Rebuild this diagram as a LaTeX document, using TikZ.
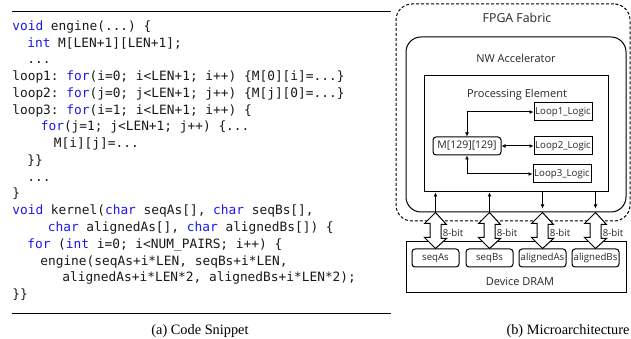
\documentclass[tikz,border=0pt]{standalone}
\usepackage{fontspec}
\setmainfont{Liberation Serif}
\setmonofont{DejaVu Sans Mono}
\newfontfamily\diagfont{Open Sans}
\usetikzlibrary{arrows.meta}
\definecolor{kwblue}{RGB}{25,25,235}
\newcommand{\kw}[1]{\textcolor{kwblue}{#1}}
\tikzstyle{codeline}=[anchor=base west,inner sep=0,text=black!90,font=\ttfamily\fontsize{7.7}{9}\selectfont\frenchspacing]
\tikzstyle{title}=[inner sep=0,text=black!85,font=\diagfont\fontsize{6.6}{8}\selectfont]
\tikzstyle{tag}=[inner sep=0,text=black!85,font=\diagfont\fontsize{5.8}{7}\selectfont]
\tikzstyle{logic}=[tag,draw,line width=0.6pt,minimum width=34.8pt,minimum height=10.8pt]
\tikzstyle{bank}=[logic,rounded corners=1.8pt,minimum width=28.2pt]
\tikzstyle{link}=[line width=0.6pt,{Latex[length=2.4pt,width=2.4pt]}-{Latex[length=2.4pt,width=2.4pt]}]
\tikzstyle{wire}=[line width=0.6pt,-{Latex[length=2.4pt,width=2.4pt]}]
\tikzstyle{bus}=[line width=0.6pt,fill=white,line join=miter]
\tikzstyle{caption}=[inner sep=0,font=\fontsize{8.6}{10}\selectfont]

\begin{document}
\begin{tikzpicture}[x=0.6pt,y=-0.6pt]
\useasboundingbox (0,0) rectangle (631,339);

% code snippet
\draw[line width=0.6pt] (12,12)--(391,12);
\node[codeline] (l1) at (12,30.5) {\kw{void} engine(...) \{};
\node[codeline] (l2) at (27,47.25) {\kw{int} M[LEN+1][LEN+1];};
\node[codeline] (l3) at (27,64) {...};
\node[codeline] (l4) at (12,80.75) {loop1: \kw{for}(i=0; i<LEN+1; i++) \{M[0][i]=...\}};
\node[codeline] (l5) at (12,97.5) {loop2: \kw{for}(j=0; j<LEN+1; j++) \{M[j][0]=...\}};
\node[codeline] (l6) at (12,114.25) {loop3: \kw{for}(i=1; i<LEN+1; i++) \{};
\node[codeline] (l7) at (40.5,131) {\kw{for}(j=1; j<LEN+1; j++) \{...};
\node[codeline] (l8) at (53.5,147.75) {M[i][j]=...};
\node[codeline] (l9) at (27,164.5) {\}\}};
\node[codeline] (l10) at (27,181.25) {...};
\node[codeline] (l11) at (12,198) {\}};
\node[codeline] (l12) at (12,214.75) {\kw{void} kernel(\kw{char} seqAs[], \kw{char} seqBs[],};
\node[codeline] (l13) at (47.5,231.5) {\kw{char} alignedAs[], \kw{char} alignedBs[]) \{};
\node[codeline] (l14) at (27,248.25) {\kw{for} (\kw{int} i=0; i<NUM\_PAIRS; i++) \{};
\node[codeline] (l15) at (40,265) {engine(seqAs+i*LEN, seqBs+i*LEN,};
\node[codeline] (l16) at (62,281.75) {alignedAs+i*LEN*2, alignedBs+i*LEN*2);};
\node[codeline] (l17) at (12,298.5) {\}\}};
\draw[line width=0.6pt] (12,313)--(391,313);
\node[caption] (capa) at (200,331) {(a) Code Snippet};

% microarchitecture
\node[draw,dash pattern=on 1.8pt off 1.2pt,line width=0.6pt,rounded corners=9.6pt,
	minimum width=140.4pt,minimum height=130.2pt] (fpga) at (513,112.5) {};
\node[draw,line width=0.6pt,rounded corners=9pt,minimum width=132pt,minimum height=105pt] (nw) at (516,124.5) {};
\node[draw,line width=0.6pt,minimum width=110.4pt,minimum height=69.6pt] (pe) at (516,134) {};
\node[draw,line width=0.6pt,minimum width=132pt,minimum height=30.6pt] (dram) at (516,267.5) {};
\node[title,font=\diagfont\fontsize{7.4}{9}\selectfont] (fpgatxt) at (517,18) {FPGA Fabric};
\node[title] (nwtxt) at (516,58) {NW Accelerator};
\node[title] (petxt) at (517,95) {Processing Element};
\node[title] (dramtxt) at (520,282) {Device DRAM};

\node[logic,rounded corners=1.8pt,minimum width=40.8pt,font=\diagfont\fontsize{6.3}{8}\selectfont] (mem) at (467,146) {M[129][129]};
\node[logic] (loop1) at (563,112) {Loop1\_Logic};
\node[logic] (loop2) at (563,146) {Loop2\_Logic};
\node[logic] (loop3) at (562,174) {Loop3\_Logic};
\draw[link] (mem.north) |- (loop1.west);
\draw[link] (mem.east) -- (loop2.west);
\draw[link] (mem.south) |- (loop3.west);

\foreach \i/\x/\name in {1/435.5/seqAs,2/489.5/seqBs,3/542.5/alignedAs,4/595.5/alignedBs}{
	\node[bank] (ram\i) at (\x,258) {\name};
	\draw[bus] (nw.south -| ram\i.north)--++(11,12)--++(-5.5,0)--++(0,14)--++(5.5,0)
		--(ram\i.north)--++(-11,-11)--++(5.5,0)--++(0,-14)--++(-5.5,0)--cycle;
	\node[tag,anchor=west] (bit\i) at ([shift={(7,-16)}]ram\i.north) {8-bit};
}
\foreach \i in {1,2}
	\draw[wire] (nw.south -| ram\i.north)--(pe.south -| ram\i.north);
\foreach \i in {3,4}
	\draw[wire,shorten >=2.4pt] (pe.south -| ram\i.north)--(nw.south -| ram\i.north);
\node[caption] (capb) at (568,331) {(b) Microarchitecture};
\end{tikzpicture}
\end{document}
